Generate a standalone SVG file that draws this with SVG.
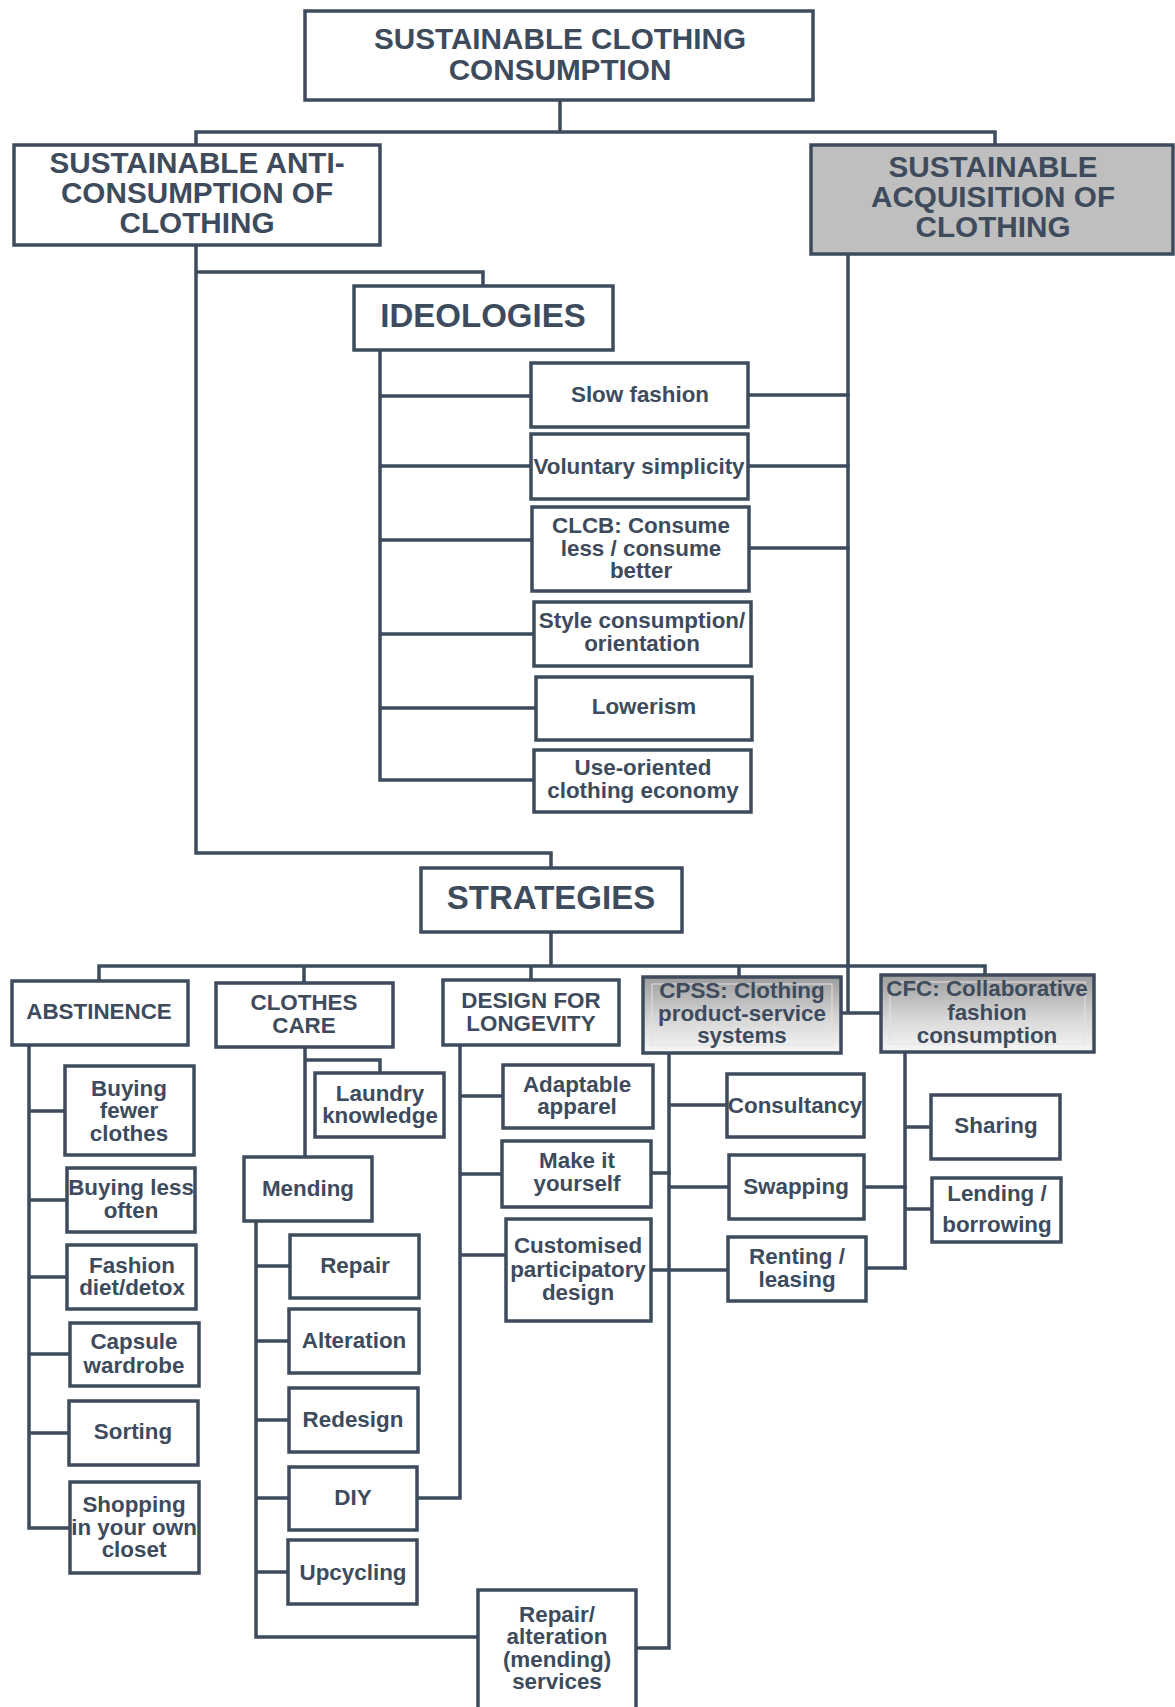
<svg xmlns="http://www.w3.org/2000/svg" width="1175" height="1707" viewBox="0 0 1175 1707">
<defs>
<linearGradient id="gr" x1="0" y1="0" x2="0" y2="1">
<stop offset="0" stop-color="#9d9d9d"/>
<stop offset="0.55" stop-color="#d6d6d6"/>
<stop offset="1" stop-color="#f7f7f7"/>
</linearGradient>
<style>
.b{fill:#ffffff;stroke:#3d4b5d;stroke-width:3.5}
.g{fill:#bfbfbf;stroke:#3d4b5d;stroke-width:3.5}
.q{fill:url(#gr);stroke:#3d4b5d;stroke-width:3.5}
.in{fill:none;stroke:#e2e2e2;stroke-width:1}
.c{fill:none;stroke:#3d4b5d;stroke-width:3.5;stroke-linejoin:miter;stroke-linecap:square}
text{font-family:"Liberation Sans",Arial,sans-serif;font-weight:bold;fill:#3d4b5d;text-anchor:middle;font-size:22.4px}
.h1{font-size:29.7px}
.h2{font-size:33px}
</style>
</defs>
<rect width="1175" height="1707" fill="#ffffff"/>
<g id="connectors">
<path class="c" d="M560,100 V132 M196,145 V132 H995 V145"/>
<path class="c" d="M196,245 V853 H551 V867 M196,272 H483 V285"/>
<path class="c" d="M848,254 V1013 M842,1013 H880"/>
<path class="c" d="M380,351 V780 M380,396 H531 M380,466 H531 M380,540 H532 M380,634 H534 M380,708 H536 M380,780 H534"/>
<path class="c" d="M748,395 H848 M748,466 H848 M749,548 H848"/>
<path class="c" d="M551,933 V966 M99,980 V966 H985 V975 M304,966 V982 M531,966 V980 M739,966 V976"/>
<path class="c" d="M29,1046 V1528 M29,1111 H65 M29,1200 H67 M29,1277 H67 M29,1354 H70 M29,1433 H69 M29,1528 H70"/>
<path class="c" d="M305,1048 V1156 M305,1060 H380 V1072"/>
<path class="c" d="M256,1222 V1637 H478 M256,1266 H290 M256,1341 H289 M256,1420 H289 M256,1498 H289 M256,1572 H288"/>
<path class="c" d="M460,1046 V1498 H417 M460,1096 H503 M460,1174 H502 M460,1255 H506"/>
<path class="c" d="M651,1173 H669 M651,1270 H728"/>
<path class="c" d="M669,1054 V1648 H636 M669,1105 H727 M669,1187 H729"/>
<path class="c" d="M864,1187 H905 M866,1268 H905"/>
<path class="c" d="M905,1053 V1268 M905,1127 H931 M905,1209 H932"/>
</g>
<g id="n-top"><rect class="b" x="305" y="11" width="508" height="89"/><text class="h1" x="560" y="49">SUSTAINABLE CLOTHING</text><text class="h1" x="560" y="80">CONSUMPTION</text></g>
<g id="n-anti"><rect class="b" x="14" y="145" width="366" height="100"/><text class="h1" x="197" y="173">SUSTAINABLE ANTI-</text><text class="h1" x="197" y="203">CONSUMPTION OF</text><text class="h1" x="197" y="233">CLOTHING</text></g>
<g id="n-acq"><rect class="g" x="811" y="145" width="362" height="109"/><text class="h1" x="993" y="177">SUSTAINABLE</text><text class="h1" x="993" y="207">ACQUISITION OF</text><text class="h1" x="993" y="237">CLOTHING</text></g>
<g id="n-ideologies"><rect class="b" x="354" y="286" width="259" height="64"/><text class="h2" x="483" y="327">IDEOLOGIES</text></g>
<g id="n-slow"><rect class="b" x="531" y="363" width="217" height="64"/><text x="640" y="402">Slow fashion</text></g>
<g id="n-voluntary"><rect class="b" x="531" y="434" width="217" height="65"/><text x="639" y="474">Voluntary simplicity</text></g>
<g id="n-clcb"><rect class="b" x="532" y="507" width="217" height="84"/><text x="641" y="533">CLCB: Consume</text><text x="641" y="556">less / consume</text><text x="641" y="578">better</text></g>
<g id="n-style"><rect class="b" x="534" y="602" width="217" height="64"/><text x="642" y="628">Style consumption/</text><text x="642" y="651">orientation</text></g>
<g id="n-lowerism"><rect class="b" x="536" y="677" width="216" height="63"/><text x="644" y="714">Lowerism</text></g>
<g id="n-use"><rect class="b" x="534" y="750" width="217" height="62"/><text x="643" y="775">Use-oriented</text><text x="643" y="798">clothing economy</text></g>
<g id="n-strategies"><rect class="b" x="421" y="868" width="261" height="64"/><text class="h2" x="551" y="909">STRATEGIES</text></g>
<g id="n-abstinence"><rect class="b" x="12" y="981" width="176" height="64"/><text x="99" y="1019">ABSTINENCE</text></g>
<g id="n-care"><rect class="b" x="216" y="983" width="177" height="64"/><text x="304" y="1010">CLOTHES</text><text x="304" y="1033">CARE</text></g>
<g id="n-dfl"><rect class="b" x="443" y="980" width="176" height="65"/><text x="531" y="1008">DESIGN FOR</text><text x="531" y="1031">LONGEVITY</text></g>
<g id="n-cpss"><rect class="q" x="643" y="977" width="198" height="76"/><rect class="in" x="652" y="984" width="180" height="61"/><text x="742" y="998">CPSS: Clothing</text><text x="742" y="1021">product-service</text><text x="742" y="1043">systems</text></g>
<g id="n-cfc"><rect class="q" x="881" y="975" width="213" height="77"/><rect class="in" x="890" y="982" width="195" height="62"/><text x="987" y="996">CFC: Collaborative</text><text x="987" y="1020">fashion</text><text x="987" y="1043">consumption</text></g>
<g id="n-fewer"><rect class="b" x="65" y="1066" width="129" height="89"/><text x="129" y="1096">Buying</text><text x="129" y="1118">fewer</text><text x="129" y="1141">clothes</text></g>
<g id="n-lessoften"><rect class="b" x="67" y="1168" width="128" height="64"/><text x="131" y="1195">Buying less</text><text x="131" y="1218">often</text></g>
<g id="n-diet"><rect class="b" x="67" y="1245" width="129" height="64"/><text x="132" y="1273">Fashion</text><text x="132" y="1295">diet/detox</text></g>
<g id="n-capsule"><rect class="b" x="70" y="1323" width="129" height="63"/><text x="134" y="1349">Capsule</text><text x="134" y="1373">wardrobe</text></g>
<g id="n-sorting"><rect class="b" x="69" y="1401" width="129" height="64"/><text x="133" y="1439">Sorting</text></g>
<g id="n-shopping"><rect class="b" x="70" y="1482" width="129" height="91"/><text x="134" y="1512">Shopping</text><text x="134" y="1535">in your own</text><text x="134" y="1557">closet</text></g>
<g id="n-laundry"><rect class="b" x="315" y="1073" width="129" height="64"/><text x="380" y="1101">Laundry</text><text x="380" y="1123">knowledge</text></g>
<g id="n-mending"><rect class="b" x="244" y="1157" width="128" height="64"/><text x="308" y="1196">Mending</text></g>
<g id="n-repair"><rect class="b" x="290" y="1235" width="129" height="63"/><text x="355" y="1273">Repair</text></g>
<g id="n-alteration"><rect class="b" x="289" y="1309" width="130" height="64"/><text x="354" y="1348">Alteration</text></g>
<g id="n-redesign"><rect class="b" x="289" y="1388" width="129" height="64"/><text x="353" y="1427">Redesign</text></g>
<g id="n-diy"><rect class="b" x="289" y="1467" width="128" height="63"/><text x="353" y="1505">DIY</text></g>
<g id="n-upcycling"><rect class="b" x="288" y="1540" width="129" height="64"/><text x="353" y="1580">Upcycling</text></g>
<g id="n-services"><rect class="b" x="478" y="1590" width="158" height="130"/><text x="557" y="1622">Repair/</text><text x="557" y="1644">alteration</text><text x="557" y="1667">(mending)</text><text x="557" y="1689">services</text></g>
<g id="n-adaptable"><rect class="b" x="503" y="1065" width="150" height="63"/><text x="577" y="1092">Adaptable</text><text x="577" y="1114">apparel</text></g>
<g id="n-makeit"><rect class="b" x="502" y="1141" width="149" height="66"/><text x="577" y="1168">Make it</text><text x="577" y="1191">yourself</text></g>
<g id="n-customised"><rect class="b" x="506" y="1219" width="145" height="102"/><text x="578" y="1253">Customised</text><text x="578" y="1277">participatory</text><text x="578" y="1300">design</text></g>
<g id="n-consultancy"><rect class="b" x="727" y="1074" width="137" height="63"/><text x="795" y="1113">Consultancy</text></g>
<g id="n-swapping"><rect class="b" x="729" y="1155" width="135" height="64"/><text x="796" y="1194">Swapping</text></g>
<g id="n-renting"><rect class="b" x="728" y="1237" width="138" height="64"/><text x="797" y="1264">Renting /</text><text x="797" y="1287">leasing</text></g>
<g id="n-sharing"><rect class="b" x="931" y="1095" width="129" height="64"/><text x="996" y="1133">Sharing</text></g>
<g id="n-lending"><rect class="b" x="932" y="1178" width="129" height="64"/><text x="997" y="1201">Lending /</text><text x="997" y="1232">borrowing</text></g>
</svg>
